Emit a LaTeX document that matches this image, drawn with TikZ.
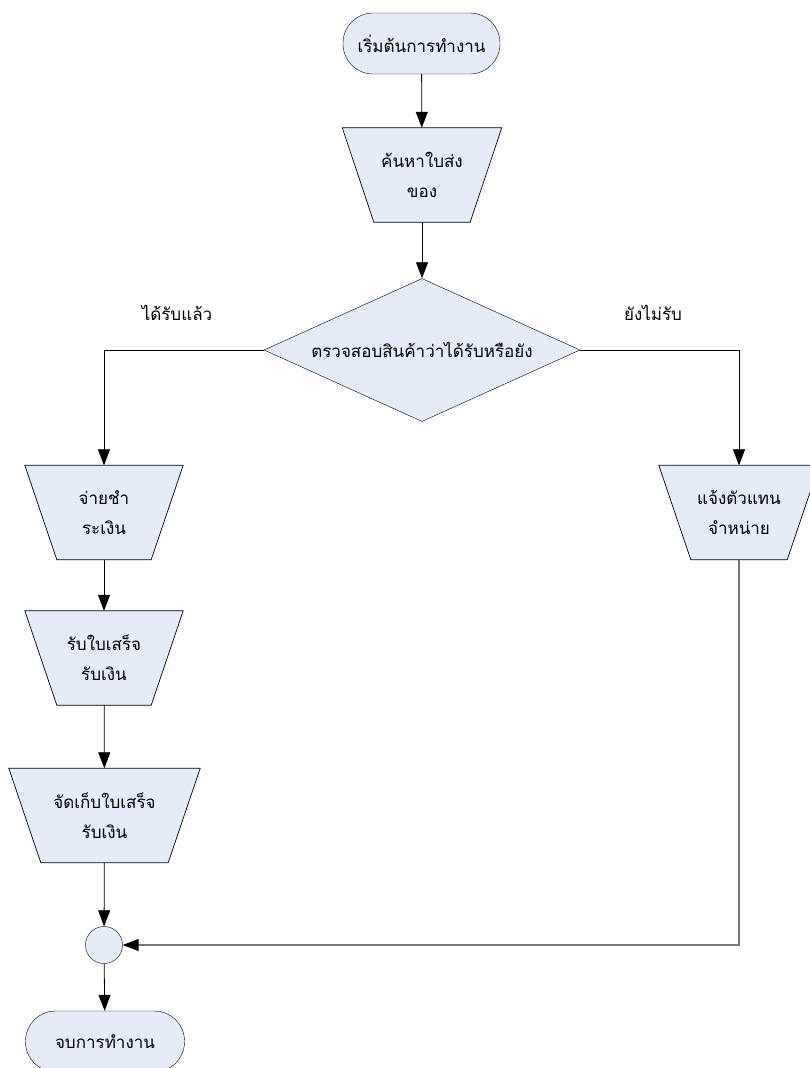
\documentclass[tikz,border=0pt]{standalone}
\usepackage{fontspec}
\newfontfamily\thai[Script=Thai]{Loma}
\usetikzlibrary{shapes.geometric,arrows.meta,backgrounds}
\definecolor{nodefill}{RGB}{229,235,247}
\definecolor{linkgray}{RGB}{120,120,120}
\begin{document}
\begin{tikzpicture}[x=1pt,y=-1pt,
  every node/.style={font=\thai\fontsize{17}{30}\selectfont},
  terminal/.style={draw, fill=nodefill, rounded corners=30pt, minimum width=157pt, minimum height=61pt, inner sep=0pt},
  manop/.style={draw=none, minimum width=#1, minimum height=94pt, inner sep=0pt, align=center},
  decision/.style={diamond, draw, fill=nodefill, minimum width=316pt, minimum height=143pt, aspect=2.21, inner sep=0pt},
  junction/.style={circle, draw, fill=nodefill, minimum size=37pt, inner sep=0pt},
  trapfill/.style={draw, fill=nodefill, line width=0.7pt},
  link/.style={draw, line width=0.8pt, -{Triangle[length=16pt,width=12pt,color=black]}},
  lbl/.style={inner sep=0pt}
]
\clip (0,0) rectangle (809,1068);
\node[terminal] (start) at (421.5,43.5) {เริ่มต้นการทำงาน};
\node[manop=159pt] (find) at (422,175) {ค้นหาใบส่ง\\ของ};
\node[decision] (check) at (422,350) {ตรวจสอบสินค้าว่าได้รับหรือยัง};
\node[manop=158pt] (pay) at (104,512.5) {จ่ายชำ\\ระเงิน};
\node[manop=160pt] (notify) at (739,512.5) {แจ้งตัวแทน\\จำหน่าย};
\node[manop=158pt] (receipt) at (104,658) {รับใบเสร็จ\\รับเงิน};
\node[manop=191pt] (store) at (104.5,815.5) {จัดเก็บใบเสร็จ\\รับเงิน};
\node[junction] (join) at (104,945) {};
\node[terminal, minimum width=159pt] (finish) at (105,1041.5) {จบการทำงาน};
\node[lbl] (yes) at (177,313) {ได้รับแล้ว};
\node[lbl] (no) at (653,313) {ยังไม่รับ};
\begin{scope}[on background layer]
  \foreach \n/\d in {find/31.5, pay/32, notify/32, receipt/32, store/32}{
    \path[trapfill] (\n.north west) -- (\n.north east) -- ([xshift=-\d pt]\n.south east) -- ([xshift=\d pt]\n.south west) -- cycle;
  }
\end{scope}
\draw[link] (start) -- (find);
\draw[link] (find) -- (check);
\draw[link] (check.west) -| (pay.north);
\draw[link] (check.east) -| (notify.north);
\draw[link] (pay) -- (receipt);
\draw[link] (receipt) -- (store);
\draw[link] (store) -- (join);
\draw[link, draw=linkgray, line width=1.1pt] (notify.south) |- (join.east);
\draw[link] (join) -- (finish);
\end{tikzpicture}
\end{document}
